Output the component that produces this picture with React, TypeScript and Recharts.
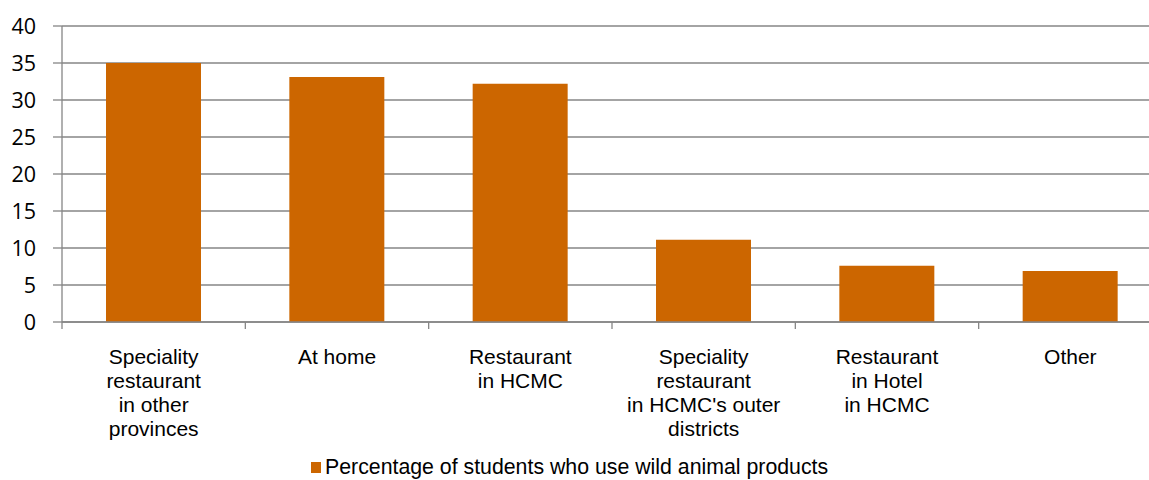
import { BarChart, Bar, XAxis, YAxis, CartesianGrid } from 'recharts';

const categories = [
  'Speciality\nrestaurant\nin other\nprovinces',
  'At home',
  'Restaurant\nin HCMC',
  "Speciality\nrestaurant\nin HCMC's outer\ndistricts",
  'Restaurant\nin Hotel\nin HCMC',
  'Other',
];
const percentUsing = [35, 33.1, 32.2, 11.1, 7.6, 6.9];
const yTicks = [0, 5, 10, 15, 20, 25, 30, 35, 40];
const seriesName = 'Percentage of students who use wild animal products';

const CHART_W = 1170;
const CHART_H = 480;
const Y_W = 62;
const RIGHT = 8;
const BAND = (CHART_W - Y_W - RIGHT) / categories.length;
const AXIS = '#868686';
const BAR = '#CC6600';

const data = categories.map((name, i) => ({ name, value: percentUsing[i] }));

function CategoryTick(props: any) {
  const { x, y, payload, index } = props;
  const lines = String(payload.value).split('\n');
  return (
    <g>
      <line x1={x - BAND / 2} x2={x - BAND / 2} y1={y} y2={y + 7} stroke={AXIS} strokeWidth={1.3} />
      {index === categories.length - 1 && (
        <line x1={x + BAND / 2} x2={x + BAND / 2} y1={y} y2={y + 7} stroke={AXIS} strokeWidth={1.3} />
      )}
      <text
        x={x}
        y={y + 42}
        textAnchor="middle"
        fill="#000"
        style={{ fontFamily: '"Liberation Sans", Arial, sans-serif', fontSize: 21 }}
      >
        {lines.map((l, i) => (
          <tspan key={i} x={x} dy={i === 0 ? 0 : 24}>
            {l}
          </tspan>
        ))}
      </text>
    </g>
  );
}

export default function App() {
  return (
    <div
      style={{
        position: 'fixed',
        left: 0,
        top: 0,
        width: 1149,
        height: 480,
        overflow: 'hidden',
        background: '#fff',
      }}
    >
      <BarChart
        width={CHART_W}
        height={CHART_H}
        data={data}
        margin={{ top: 26, right: RIGHT, left: 0, bottom: 0 }}
        barCategoryGap="24%"
      >
        <CartesianGrid vertical={false} stroke={AXIS} strokeWidth={1.3} />
        <XAxis
          dataKey="name"
          height={158}
          interval={0}
          tickLine={false}
          tickSize={0}
          tickMargin={0}
          axisLine={{ stroke: AXIS, strokeWidth: 1.3 }}
          tick={<CategoryTick />}
        />
        <YAxis
          width={Y_W}
          domain={[0, 40]}
          ticks={yTicks}
          interval={0}
          tickSize={9}
          tickMargin={17}
          axisLine={{ stroke: AXIS, strokeWidth: 1.3 }}
          tickLine={{ stroke: AXIS, strokeWidth: 1.3 }}
          tick={{ fill: '#000', fontSize: 21.5, fontFamily: '"Open Sans", sans-serif' }}
        />
        <Bar dataKey="value" name={seriesName} fill={BAR} isAnimationActive={false} />
      </BarChart>
      <div
        style={{
          position: 'absolute',
          left: 311,
          top: 462,
          width: 10,
          height: 11,
          background: BAR,
        }}
      />
      <div
        style={{
          position: 'absolute',
          left: 325,
          top: 455,
          fontFamily: '"Liberation Sans", Arial, sans-serif',
          fontSize: 21.3,
          lineHeight: '24px',
          color: '#000',
          whiteSpace: 'nowrap',
        }}
      >
        {seriesName}
      </div>
    </div>
  );
}
